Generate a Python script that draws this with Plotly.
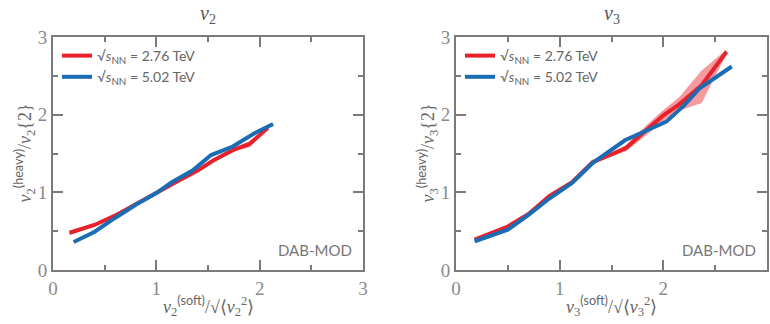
import plotly.graph_objects as go

# ---- data ----
# left panel (v2)
v2_red_x = [0.16, 0.4, 0.6, 0.8, 1.0, 1.2, 1.4, 1.55, 1.75, 1.9, 2.08]
v2_red_y = [0.48, 0.58, 0.70, 0.85, 1.0, 1.14, 1.28, 1.41, 1.55, 1.62, 1.83]
v2_red_lo = [0.45, 0.56, 0.68, 0.83, 0.98, 1.12, 1.26, 1.39, 1.53, 1.58, 1.81]
v2_red_hi = [0.50, 0.60, 0.72, 0.87, 1.02, 1.16, 1.30, 1.43, 1.57, 1.66, 1.85]
v2_blue_x = [0.2, 0.4, 0.6, 0.8, 1.0, 1.15, 1.35, 1.53, 1.74, 1.95, 2.13]
v2_blue_y = [0.36, 0.49, 0.67, 0.84, 0.99, 1.13, 1.28, 1.48, 1.59, 1.76, 1.88]

# right panel (v3)
v3_red_x = [0.18, 0.5, 0.7, 0.9, 1.12, 1.32, 1.52, 1.64, 1.85, 2.0, 2.15, 2.37, 2.61]
v3_red_y = [0.39, 0.56, 0.72, 0.95, 1.13, 1.39, 1.50, 1.57, 1.82, 1.99, 2.13, 2.38, 2.81]
v3_red_lo = [0.37, 0.54, 0.70, 0.92, 1.11, 1.37, 1.47, 1.53, 1.75, 1.92, 2.05, 2.15, 2.78]
v3_red_hi = [0.41, 0.58, 0.74, 0.98, 1.15, 1.41, 1.53, 1.61, 1.88, 2.06, 2.22, 2.57, 2.84]
v3_blue_x = [0.18, 0.5, 0.7, 0.9, 1.12, 1.32, 1.63, 1.85, 2.03, 2.2, 2.35, 2.66]
v3_blue_y = [0.37, 0.52, 0.71, 0.92, 1.12, 1.38, 1.67, 1.80, 1.91, 2.12, 2.34, 2.62]

tick_vals = [0, 1, 2, 3]
tick_text = ["0", "1", "2", "3"]
label_276 = "√<i>s</i><sub>NN</sub> = 2.76 TeV"
label_502 = "√<i>s</i><sub>NN</sub> = 5.02 TeV"

RED = "#e8212b"
BLUE = "#1a6db3"
BAND = "rgba(232,33,43,0.45)"
FRAME = "#7a7a7a"
TICKFONT = "#8a8a8a"

fig = go.Figure()

def add_panel(xa, ya, legend, rx, ry, rlo, rhi, bx, by):
    fig.add_trace(go.Scatter(x=rx + rx[::-1], y=rhi + rlo[::-1], fill="toself",
                             fillcolor=BAND, line=dict(width=0), hoverinfo="skip",
                             showlegend=False, xaxis=xa, yaxis=ya))
    fig.add_trace(go.Scatter(x=rx, y=ry, mode="lines", line=dict(color=RED, width=4),
                             name=label_276, xaxis=xa, yaxis=ya, legend=legend))
    fig.add_trace(go.Scatter(x=bx, y=by, mode="lines", line=dict(color=BLUE, width=4),
                             name=label_502, xaxis=xa, yaxis=ya, legend=legend))

add_panel("x", "y", "legend", v2_red_x, v2_red_y, v2_red_lo, v2_red_hi, v2_blue_x, v2_blue_y)
add_panel("x2", "y2", "legend2", v3_red_x, v3_red_y, v3_red_lo, v3_red_hi, v3_blue_x, v3_blue_y)

ydom = [(324 - 270) / 324, (324 - 37) / 324]
axis_common = dict(range=[0, 3], tickmode="array", tickvals=tick_vals, ticktext=tick_text,
                   ticks="inside", ticklen=10, tickwidth=1.5, tickcolor=FRAME,
                   showline=True, linecolor=FRAME, linewidth=2, mirror="allticks",
                   showgrid=False, zeroline=False, automargin=False,
                   tickfont=dict(family="Liberation Serif", size=19, color=TICKFONT),
                   minor=dict(tickmode="linear", dtick=0.5, ticks="inside", ticklen=5,
                              tickwidth=1.5, tickcolor=FRAME, showgrid=False))

fig.update_layout(
    width=770, height=324, margin=dict(l=0, r=0, t=0, b=0),
    plot_bgcolor="white", paper_bgcolor="white",
    xaxis=dict(domain=[53 / 770, 363 / 770], anchor="y", **axis_common),
    yaxis=dict(domain=ydom, anchor="x", **axis_common),
    xaxis2=dict(domain=[456 / 770, 767 / 770], anchor="y2", **axis_common),
    yaxis2=dict(domain=ydom, anchor="x2", **axis_common),
    legend=dict(x=57 / 770, y=(324 - 40) / 324, xanchor="left", yanchor="top",
                bgcolor="rgba(0,0,0,0)", font=dict(family="Lato", size=14, color="#666666"),
                itemwidth=30, tracegroupgap=0),
    legend2=dict(x=460 / 770, y=(324 - 40) / 324, xanchor="left", yanchor="top",
                 bgcolor="rgba(0,0,0,0)", font=dict(family="Lato", size=14, color="#666666"),
                 itemwidth=30, tracegroupgap=0),
    showlegend=True,
)

SANS = '<span style="font-family:Lato">'
def xtitle(n):
    return (f"<i>v</i><sub>{n}</sub><sup>{SANS}(soft)</span></sup>/"
            f"√⟨<i>v</i><sub>{n}</sub><sup>2</sup>⟩")
def ytitle(n):
    return (f"<i>v</i><sub>{n}</sub><sup>{SANS}(heavy)</span></sup>/"
            f"<i>v</i><sub>{n}</sub>{{2}}")

title_font = dict(family="Liberation Serif", size=18, color="#666666")
for xa, n in [("x", 2), ("x2", 3)]:
    fig.add_annotation(text=xtitle(n), x=0.5, y=(324 - 306) / 324, xref=f"{xa} domain", yref="paper",
                       xanchor="center", yanchor="middle", showarrow=False, font=title_font)

# y titles positioned relative to each plot's left edge
for left, n in [(53, 2), (456, 3)]:
    fig.add_annotation(text=ytitle(n), x=(left - 29) / 770, y=0.5, xref="paper", yref="y domain",
                       xanchor="center", yanchor="middle", showarrow=False, font=title_font,
                       textangle=-90)

ann_font = dict(family="Lato", size=15, color="#777777")
fig.add_annotation(text="DAB-MOD", x=0.97, y=0.04, xref="x domain", yref="y domain",
                   xanchor="right", yanchor="bottom", showarrow=False, font=ann_font)
fig.add_annotation(text="DAB-MOD", x=0.97, y=0.04, xref="x2 domain", yref="y2 domain",
                   xanchor="right", yanchor="bottom", showarrow=False, font=ann_font)

ttl_font = dict(family="Liberation Serif", size=20, color="#555555")
fig.add_annotation(text="<i>v</i><sub>2</sub>", x=0.5, y=(324 - 15) / 324, xref="x domain", yref="paper",
                   xanchor="center", yanchor="middle", showarrow=False, font=ttl_font)
fig.add_annotation(text="<i>v</i><sub>3</sub>", x=0.5, y=(324 - 15) / 324, xref="x2 domain", yref="paper",
                   xanchor="center", yanchor="middle", showarrow=False, font=ttl_font)

fig.write_html("out.html")
